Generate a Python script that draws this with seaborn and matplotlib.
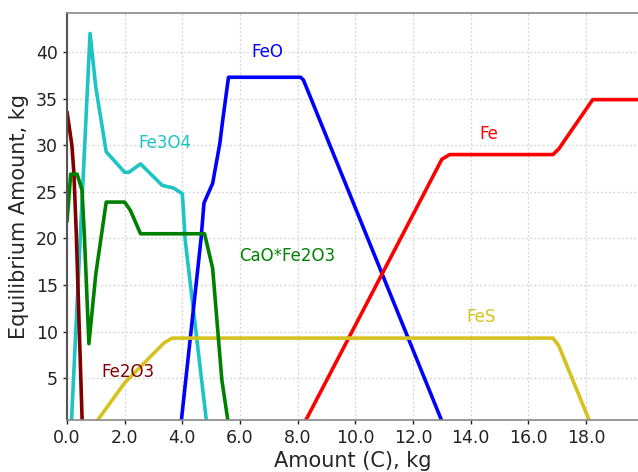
import matplotlib
matplotlib.use("Agg")
import matplotlib.pyplot as plt
import seaborn as sns
import pandas as pd

# ---- data ----
fe3o4_x = [0.15, 0.8, 1.0, 1.36, 2.0, 2.15, 2.55, 3.3, 3.7, 4.0, 4.1, 4.85]
fe3o4_y = [0.0, 42.0, 36.2, 29.3, 27.1, 27.1, 28.0, 25.7, 25.4, 24.8, 19.8, 0.0]

feo_x = [3.95, 4.65, 4.75, 5.05, 5.3, 5.4, 5.6, 8.1, 8.2, 13.05]
feo_y = [0.0, 20.0, 23.8, 25.9, 30.2, 32.7, 37.3, 37.3, 37.0, 0.0]

fe_x = [8.2, 13.0, 13.27, 16.85, 17.05, 18.23, 19.8]
fe_y = [0.0, 28.5, 29.0, 29.0, 29.6, 34.9, 34.9]

fes_x = [0.95, 2.0, 3.37, 3.65, 16.85, 17.05, 18.17]
fes_y = [0.0, 4.5, 8.8, 9.3, 9.3, 8.5, 0.0]

fe2o3_x = [0.0, 0.17, 0.24, 0.32, 0.53]
fe2o3_y = [33.6, 30.0, 27.0, 20.7, 0.0]

cafe_x = [0.0, 0.13, 0.35, 0.52, 0.6, 0.76, 1.0, 1.36, 2.0, 2.2, 2.55, 4.77, 5.05, 5.37, 5.6]
cafe_y = [21.8, 26.9, 26.9, 25.2, 20.5, 8.7, 16.2, 23.9, 23.9, 23.0, 20.5, 20.5, 16.8, 4.8, 0.0]

series_names = ["Fe3O4", "FeO", "Fe", "FeS", "Fe2O3", "CaO*Fe2O3"]
series_x = [fe3o4_x, feo_x, fe_x, fes_x, fe2o3_x, cafe_x]
series_y = [fe3o4_y, feo_y, fe_y, fes_y, fe2o3_y, cafe_y]
colors = ["#1EC3C3", "#0000FF", "#FF0000", "#D6C21E", "#800000", "#008000"]
label_pos = [(2.47, 30.2), (6.4, 40.0), (14.3, 31.2), (13.85, 11.6), (1.18, 5.7), (5.97, 18.1)]

x_ticks = [0, 2, 4, 6, 8, 10, 12, 14, 16, 18]
y_ticks = [5, 10, 15, 20, 25, 30, 35, 40]

# ---- build table ----
rows = []
for name, xs, ys in zip(series_names, series_x, series_y):
    for i, (xv, yv) in enumerate(zip(xs, ys)):
        rows.append({"species": name, "x": xv, "y": yv, "order": i})
df = pd.DataFrame(rows)

sns.set_theme(style="white")
plt.rcParams["font.family"] = ["DejaVu Sans"]

fig = plt.figure(figsize=(6.38, 4.72), dpi=100)
ax = fig.add_axes([0.105, 0.11, 0.895, 0.8625])

sns.lineplot(data=df, x="x", y="y", hue="species", hue_order=series_names,
             palette=dict(zip(series_names, colors)), sort=False, estimator=None,
             units="species", legend=False, linewidth=2.6, ax=ax)

for name, c, (lx, ly) in zip(series_names, colors, label_pos):
    ax.text(lx, ly, name, color=c, fontsize=12, ha="left", va="center")

ax.set_xlim(0, 19.8)
ax.set_ylim(0.5, 44.2)
ax.set_xticks(x_ticks)
ax.set_xticklabels([f"{v:.1f}" for v in x_ticks])
ax.set_yticks(y_ticks)
ax.set_yticklabels([str(v) for v in y_ticks])
ax.tick_params(axis="both", labelsize=12.5, colors="#222222", direction="out",
               length=3, width=1, left=True, bottom=True)
ax.grid(True, linestyle=(0, (1.5, 1.5)), color="#d8d8d8", linewidth=1)
ax.set_axisbelow(True)

ax.set_xlabel("Amount (C), kg", fontsize=15, labelpad=3)
ax.set_ylabel("Equilibrium Amount, kg", fontsize=15, labelpad=5)

for side in ["top", "bottom"]:
    ax.spines[side].set_color("#888888")
    ax.spines[side].set_linewidth(1.2)
ax.spines["left"].set_color("#555555")
ax.spines["left"].set_linewidth(1.5)
ax.spines["right"].set_visible(False)

fig.savefig("out.png", dpi=100)
